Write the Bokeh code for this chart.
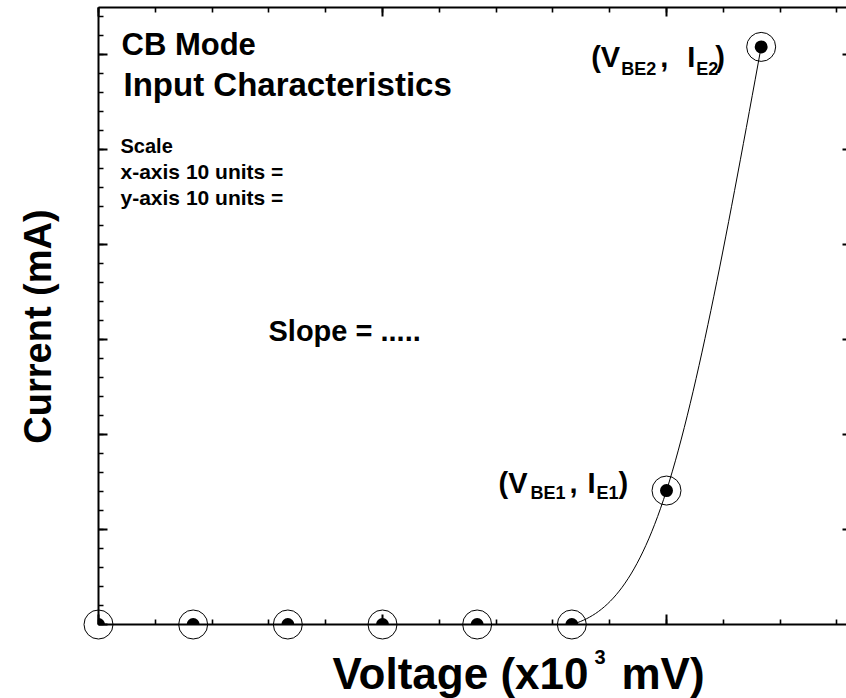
import numpy as np
from bokeh.plotting import figure
from bokeh.models import Range1d, LinearAxis, FixedTicker, Label
from bokeh.embed import file_html
from bokeh.resources import INLINE

# ---- data ----
voltage = [0.0, 0.1, 0.2, 0.3, 0.4, 0.5, 0.6, 0.7]      # x10^3 mV
current = [0.0, 0.0, 0.0, 0.0, 0.0, 0.0, 14.1, 60.8]    # mA
x_major = [0.0, 0.3, 0.6]
x_minor = [round(0.06 * k, 2) for k in range(14)]
y_major = [0, 10, 20, 30, 40, 50, 60]
y_minor = list(range(0, 66, 2))

FONT = "Liberation Sans"
K = 0.36  # baseline compensation (fraction of font size)

# layout helpers (canvas pixel -> data); data origin sits at canvas px (98, 624)
PX_X0, PX_Y0 = 98.0, 624.0
SX, SY = 946.67, 9.5
def dx(px):
    return (px - PX_X0) / SX
def dy(py):
    return (PX_Y0 - py) / SY

W, H = 846, 698
X_END = dx(846)
Y_TOP = dy(7)
p = figure(width=W, height=H, output_backend="svg", toolbar_location=None,
           x_range=Range1d(dx(0), dx(W)), y_range=Range1d(dy(H), dy(0)),
           min_border_left=0, min_border_right=0, min_border_top=0,
           min_border_bottom=0, x_axis_type=None, y_axis_type=None)
p.outline_line_color = None
p.background_fill_color = "white"
p.border_fill_color = "white"

def style_axis(ax, major_in, minor_in, ticks, minors):
    ax.ticker = FixedTicker(ticks=ticks, minor_ticks=minors)
    ax.major_label_text_font_size = "0px"
    ax.major_label_text_color = None
    ax.major_label_standoff = 0
    ax.axis_label_standoff = 0
    ax.axis_line_width = 2
    ax.axis_line_color = "black"
    ax.major_tick_in = major_in
    ax.major_tick_out = 0
    ax.minor_tick_in = minor_in
    ax.minor_tick_out = 0
    ax.major_tick_line_width = 2
    ax.minor_tick_line_width = 1.6
    ax.major_tick_line_color = "black"
    ax.minor_tick_line_color = "black"

xb = LinearAxis(fixed_location=0, bounds=(0, X_END))
style_axis(xb, 10, 5, x_major, x_minor)
p.add_layout(xb, "below")

xt = LinearAxis(fixed_location=Y_TOP, bounds=(0, X_END))
style_axis(xt, 9, 5, x_major, x_minor)
p.add_layout(xt, "above")

yl = LinearAxis(fixed_location=0, bounds=(0, Y_TOP))
style_axis(yl, 9, 5, y_major, y_minor)
p.add_layout(yl, "left")

yr = LinearAxis(fixed_location=X_END, bounds=(0, Y_TOP))
style_axis(yr, 4, 0, y_major[1:], [])
yr.axis_line_color = None
yr.minor_tick_line_color = None
p.add_layout(yr, "right")

# ---- smooth curve: natural cubic spline through the data, drawn as bezier segments ----
xs = np.array(voltage, dtype=float)
ys = np.array(current, dtype=float)
n = len(xs)
h = np.diff(xs)
A = np.zeros((n, n))
rhs = np.zeros(n)
A[0, 0] = 1.0
A[-1, -1] = 1.0
for i in range(1, n - 1):
    A[i, i - 1] = h[i - 1]
    A[i, i] = 2 * (h[i - 1] + h[i])
    A[i, i + 1] = h[i]
    rhs[i] = 6 * ((ys[i + 1] - ys[i]) / h[i] - (ys[i] - ys[i - 1]) / h[i - 1])
M = np.linalg.solve(A, rhs)
d0 = (ys[1:] - ys[:-1]) / h - h * (2 * M[:-1] + M[1:]) / 6
d1 = (ys[1:] - ys[:-1]) / h + h * (M[:-1] + 2 * M[1:]) / 6
# flat stretches (both ends on zero) are drawn straight along the axis
flat = (ys[:-1] == 0) & (ys[1:] == 0)
d0 = np.where(flat, 0.0, d0)
d1 = np.where(flat, 0.0, d1)
p.bezier(x0=xs[:-1], y0=ys[:-1], x1=xs[1:], y1=ys[1:],
         cx0=xs[:-1] + h / 3, cy0=ys[:-1] + d0 * h / 3,
         cx1=xs[1:] - h / 3, cy1=ys[1:] - d1 * h / 3,
         line_color="black", line_width=1)

# ---- filled dots (clipped at the axes as in the original) ----
start_ang = [0.0 for _ in voltage]
end_ang = [((np.pi / 2 if xv <= 0 else np.pi) if yv <= 0 else 2 * np.pi)
           for xv, yv in zip(voltage, current)]
p.wedge(x=voltage, y=current, radius=6.5, radius_units="screen",
        start_angle=start_ang, end_angle=end_ang,
        fill_color="black", line_color=None)

# ---- open circles ----
p.scatter(x=voltage, y=current, size=29, marker="circle",
          fill_color=None, line_color="black", line_width=1)

# ---- texts (px, py = left edge and baseline, canvas pixels) ----
def lab(text, px, py, size, **kw):
    p.add_layout(Label(x=dx(px), y=dy(py - K * size), text=text, text_font=FONT,
                       text_font_style="bold", text_font_size=f"{size}px",
                       text_color="black", text_baseline="alphabetic",
                       text_align="left", **kw))

lab("CB Mode", 121, 55, 31)
lab("Input Characteristics", 123, 96, 33)
lab("Scale", 120, 153, 20)
lab("x-axis 10 units =", 120, 179, 21)
lab("y-axis 10 units =", 120, 205, 21)
lab("Slope = .....", 268, 341, 29)

# axis titles
p.add_layout(Label(x=dx(37), y=dy(326), text="Current (mA)", text_font=FONT,
                   text_font_style="bold", text_font_size="38px", text_color="black",
                   text_baseline="middle", text_align="center", angle=np.pi / 2))
lab("Voltage (x10", 332, 689, 44)
lab("3", 594, 664, 20)
lab("mV)", 621, 689, 44)

# point annotations, anchored to the data points (offsets in pixels, baseline)
def plab(i, text, xo, yo, size):
    p.add_layout(Label(x=voltage[i], y=current[i], x_offset=xo, y_offset=yo + K * size,
                       text=text, text_font=FONT, text_font_style="bold",
                       text_font_size=f"{size}px", text_color="black",
                       text_baseline="alphabetic"))

plab(6, "(V", -168, -3, 29)
plab(6, "BE1", -136, -9, 18)
plab(6, ",", -97, -3, 29)
plab(6, "I", -79, -3, 29)
plab(6, "E1", -70, -9, 18)
plab(6, ")", -48, -3, 29)

plab(7, "(V", -170, -21, 29)
plab(7, "BE2", -140, -29, 18)
plab(7, ",", -101, -21, 29)
plab(7, "I", -74, -21, 29)
plab(7, "E2", -65, -29, 18)
plab(7, ")", -46, -21, 29)

open("out.html", "w").write(file_html(p, INLINE))
